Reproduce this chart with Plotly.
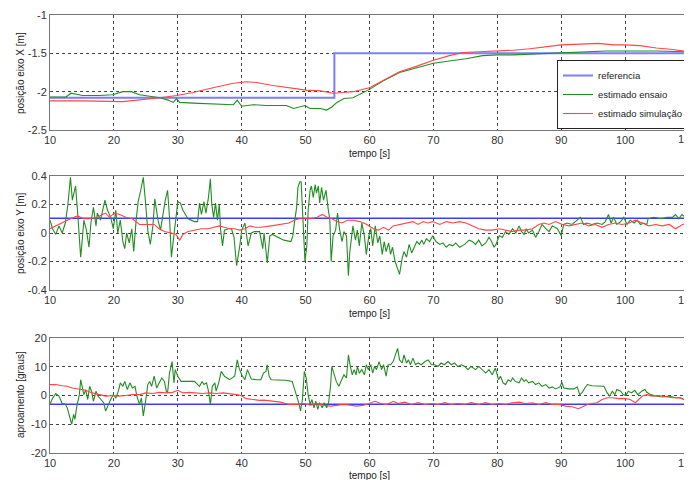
import plotly.graph_objects as go

# ---------------- data: posição eixo X [m] ----------------
t_x_ref = [10, 54.5, 54.5, 110]
x_ref = [-2.08, -2.08, -1.5, -1.5]

t_x_ens = [10, 12.5, 13.3, 15.1, 17.7, 19.8, 21.4, 22.7, 24, 26.1, 27.2, 28.5, 29.3, 29.8, 30.3,
           32.4, 35.5, 38.7, 39.3, 40, 41.8, 43.9, 47, 48.1, 49.9, 50.7, 52.3, 53.3, 54.1, 54.9,
           56, 57.4, 60, 62.1, 64.7, 67.3, 70, 72.5, 75.1, 77.7, 80, 82.5, 85.1, 87.8, 90, 94,
           97.1, 100, 105, 110]
x_ens = [-2.07, -2.07, -2.02, -2.05, -2.05, -2.04, -2.0, -2.0, -2.04, -2.07, -2.08, -2.11, -2.14, -2.09, -2.14,
         -2.15, -2.16, -2.17, -2.11, -2.19, -2.17, -2.18, -2.18, -2.22, -2.18, -2.22, -2.22, -2.24, -2.2, -2.14,
         -2.09, -2.08, -1.97, -1.86, -1.75, -1.69, -1.63, -1.6, -1.57, -1.53, -1.52, -1.52, -1.51, -1.5, -1.5, -1.48,
         -1.47, -1.47, -1.47, -1.48]

t_x_sim = [10, 15.1, 21.4, 24, 27.2, 29.8, 32.4, 35.5, 38.7, 40.8, 42.3, 44.9, 47.5, 50.1, 52.3, 54.3,
           55.8, 57.4, 60, 62.1, 64.7, 67.3, 70, 72.5, 74.6, 77.2, 80, 82.5, 85.1, 87.8, 90, 93, 95.8,
           98.2, 100, 102.3, 104.9, 107.5, 110]
x_sim = [-2.12, -2.12, -2.13, -2.11, -2.08, -2.05, -2.01, -1.95, -1.89, -1.87, -1.88, -1.92, -1.95, -1.98, -1.99, -2.02,
         -2.01, -2.0, -1.95, -1.86, -1.74, -1.67, -1.59, -1.53, -1.49, -1.48, -1.47, -1.46, -1.44, -1.41, -1.39, -1.38, -1.37,
         -1.39, -1.39, -1.4, -1.43, -1.45, -1.48]

# ---------------- data: posição eixo Y [m] ----------------
t_y_ref = [10, 110]
y_ref = [0.103, 0.103]

t_y_ens = [10, 10.4, 10.9, 11.4, 11.9, 12.4, 12.8, 13.2, 13.5, 13.8, 14.0, 14.3, 14.5, 14.8, 15.1, 15.3,
           15.7, 16.1, 16.4, 16.8, 17.2, 17.4, 17.9, 18.2, 18.6, 19.0, 19.5, 19.9, 20.3, 20.6, 21.0, 21.4,
           21.7, 22.0, 22.4, 22.8, 23.1, 23.5, 23.8, 24.2, 24.6, 24.9, 25.3, 25.7, 26.1, 26.4, 26.9, 27.3,
           27.6, 28.0, 28.4, 28.7, 29.0, 29.4, 29.7, 30.0, 30.4, 30.8, 31.6, 32.6, 33.1, 33.4, 33.7, 34.1,
           34.4, 34.8, 35.1, 35.3, 35.6, 35.9, 36.2, 36.5, 36.7, 37.0, 37.3, 37.9, 38.4, 38.8, 39.2, 39.4,
           39.7, 40.0, 40.5, 41.0, 41.5, 42.0, 42.8, 43.3, 43.5, 44.0, 44.4, 44.8, 45.6, 46.6, 47.7, 48.0,
           48.3, 48.6, 48.8, 49.1, 49.3, 49.6, 49.9, 50.2, 50.4, 50.7, 50.9, 51.2, 51.5, 51.7, 52.0, 52.2,
           52.5, 52.8, 53.2, 53.5, 53.8, 54.0, 54.3, 54.7, 55.0, 55.3, 55.7, 56.0, 56.4, 56.7, 56.9, 57.4,
           57.8, 58.1, 58.4, 58.8, 59.2, 59.5, 59.9, 60.2, 60.5, 60.9, 61.3, 61.6, 62.0, 62.3, 62.6, 63.0,
           63.3, 63.6, 64.0, 64.4, 64.7, 65.1, 65.4, 65.8, 66.2, 66.6, 67.0, 67.4, 67.8, 68.2, 68.5, 68.9,
           69.4, 69.9, 70.4, 71.0, 71.5, 72.0, 72.5, 73.0, 73.5, 74.1, 74.9, 75.6, 76.1, 76.6, 77.1, 77.6,
           78.2, 78.7, 79.1, 79.5, 79.8, 80.3, 80.8, 81.3, 81.8, 82.4, 82.9, 83.4, 83.8, 84.2, 84.5, 84.9,
           85.5, 86.0, 86.5, 87.0, 87.6, 88.1, 88.6, 89.4, 90.0, 90.4, 90.9, 91.7, 92.5, 93.0, 93.5, 94.0,
           94.8, 95.6, 96.4, 96.9, 97.4, 97.8, 98.2, 98.7, 99.3, 99.8, 100.3, 100.8, 101.4, 101.9, 102.4, 102.9,
           103.4, 103.6, 104.5, 105.6, 106.6, 107.4, 107.9, 108.4, 108.9, 109.4, 110]
y_ens = [0.09, 0.03, -0.01, 0.05, 0.0, 0.07, 0.2, 0.39, 0.23, 0.3, 0.33, 0.16, 0.02, -0.17, -0.02, 0.09,
         0.02, -0.1, 0.07, 0.18, 0.05, 0.14, 0.09, 0.16, 0.23, 0.16, 0.11, 0.03, 0.16, 0.0, 0.09, -0.06,
         -0.11, 0.0, -0.07, 0.03, -0.13, 0.1, 0.22, 0.3, 0.39, 0.24, 0.02, -0.08, 0.05, 0.24, 0.09, 0.02,
         0.11, 0.22, 0.3, 0.11, -0.17, -0.02, 0.09, 0.22, 0.21, 0.16, 0.1, 0.08, 0.08, 0.21, 0.13, 0.22,
         0.14, 0.25, 0.38, 0.21, 0.11, 0.21, 0.09, 0.2, 0.02, -0.09, 0.02, 0.03, 0.03, -0.03, -0.23, -0.18,
         -0.09, 0.02, 0.07, -0.09, 0.0, 0.01, 0.01, -0.11, 0.0, -0.21, -0.02, -0.01, -0.03, -0.05, -0.06, -0.02,
         0.09, 0.18, 0.32, 0.36, 0.36, 0.09, -0.2, -0.09, 0.16, 0.3, 0.33, 0.25, 0.34, 0.28, 0.33, 0.21,
         0.32, 0.23, 0.3, 0.18, 0.09, -0.2, -0.02, 0.02, 0.14, 0.03, -0.06, 0.01, -0.02, -0.3, -0.14, 0.05,
         -0.05, 0.02, -0.09, 0.07, -0.02, -0.15, -0.02, 0.03, -0.09, 0.05, -0.07, -0.02, -0.15, -0.06, -0.13, -0.07,
         -0.15, -0.1, -0.2, -0.25, -0.29, -0.18, -0.13, -0.17, -0.08, -0.14, -0.1, -0.06, -0.08, -0.05, -0.08, -0.04,
         -0.06, -0.02, -0.06, -0.08, -0.07, -0.1, -0.08, -0.09, -0.07, -0.1, -0.08, -0.05, -0.06, -0.08, -0.05, -0.09,
         -0.07, -0.03, -0.06, -0.1, -0.08, -0.02, -0.03, 0.01, -0.01, 0.03, 0.0, 0.05, 0.01, -0.01, 0.03, 0.0,
         0.02, -0.03, 0.01, 0.06, 0.03, 0.01, 0.05, 0.03, -0.02, 0.06, 0.07, 0.06, 0.09, 0.11, 0.06, 0.07,
         0.06, 0.07, 0.06, 0.08, 0.13, 0.07, 0.11, 0.06, 0.08, 0.11, 0.06, 0.09, 0.07, 0.09, 0.06, 0.07,
         0.06, 0.1, 0.11, 0.1, 0.11, 0.11, 0.13, 0.1, 0.13, 0.11, 0.16]

t_y_sim = [10, 10.9, 11.7, 12.4, 13.2, 14.3, 15.3, 16.4, 17.4, 18.2, 18.7, 19.3, 20.1, 20.9, 21.9, 22.9,
           23.5, 24.0, 25.3, 26.3, 27.1, 27.9, 29.0, 29.7, 30.3, 30.8, 31.6, 32.6, 33.7, 34.7, 35.8, 36.5,
           37.3, 38.1, 38.9, 39.7, 40.5, 41.3, 42.1, 43.0, 44.6, 46.1, 47.4, 48.2, 49.0, 49.8, 50.8, 51.8,
           52.6, 53.4, 54.1, 54.9, 55.7, 56.5, 57.5, 58.5, 59.6, 60.6, 61.4, 62.2, 63.0, 63.7, 64.8, 65.8,
           66.8, 67.6, 68.4, 69.1, 69.9, 71.0, 72.0, 73.1, 74.1, 75.1, 76.1, 77.1, 78.2, 79.2, 80.3, 81.3,
           82.3, 83.4, 84.4, 85.5, 86.5, 87.3, 88.1, 89.1, 90.2, 91.2, 92.2, 93.3, 94.3, 95.3, 96.4, 97.4,
           98.5, 99.5, 100.6, 101.6, 102.7, 103.7, 104.8, 105.8, 106.9, 107.9, 109.0, 110]
y_sim = [0.03, 0.05, 0.07, 0.08, 0.1, 0.12, 0.1, 0.1, 0.11, 0.13, 0.14, 0.11, 0.14, 0.13, 0.11, 0.1,
         0.08, 0.06, 0.06, 0.06, 0.03, 0.01, 0.0, -0.01, -0.05, -0.01, 0.01, 0.02, 0.03, 0.03, 0.04, 0.05,
         0.04, 0.03, 0.03, 0.02, 0.03, 0.05, 0.04, 0.04, 0.05, 0.06, 0.07, 0.09, 0.1, 0.1, 0.1, 0.11,
         0.13, 0.11, 0.1, 0.08, 0.07, 0.09, 0.09, 0.08, 0.06, 0.03, 0.02, 0.04, 0.02, 0.05, 0.06, 0.07,
         0.08, 0.06, 0.08, 0.07, 0.08, 0.06, 0.08, 0.07, 0.08, 0.07, 0.05, 0.03, 0.02, 0.02, 0.03, 0.02,
         0.01, 0.02, 0.02, 0.03, 0.06, 0.07, 0.06, 0.08, 0.06, 0.05, 0.06, 0.07, 0.05, 0.06, 0.04, 0.06,
         0.07, 0.06, 0.07, 0.09, 0.07, 0.05, 0.06, 0.05, 0.06, 0.03, 0.06, 0.07]

# ---------------- data: aproamento [graus] ----------------
t_h_ref = [10, 110]
h_ref = [-3.0, -3.0]

t_h_ens = [10, 10.4, 10.9, 11.4, 11.9, 12.4, 12.7, 13.0, 13.4, 13.7, 13.9, 14.2, 14.6, 14.8, 15.1, 15.3,
           15.6, 15.9, 16.2, 16.5, 16.8, 17.2, 17.5, 18.0, 18.4, 18.7, 19.1, 19.5, 19.9, 20.3, 20.7, 21.0,
           21.4, 21.7, 22.1, 22.5, 22.9, 23.3, 23.6, 24.0, 24.3, 24.6, 25.0, 25.3, 25.6, 25.9, 26.3, 26.7,
           27.1, 27.5, 27.9, 28.2, 28.4, 28.7, 29.1, 29.4, 29.6, 30.0, 30.5, 31.6, 32.6, 33.4, 33.8, 34.1,
           34.5, 34.8, 35.1, 35.4, 35.8, 36.0, 36.4, 36.8, 37.3, 38.1, 38.9, 39.3, 39.6, 40.0, 40.5, 40.9,
           41.5, 42.3, 43.0, 43.4, 43.8, 44.0, 44.3, 44.6, 45.6, 46.9, 47.9, 48.2, 48.6, 49.0, 49.2, 49.5,
           49.8, 50.1, 50.4, 50.7, 51.0, 51.3, 51.6, 51.9, 52.2, 52.6, 52.9, 53.3, 53.6, 53.9, 54.1, 54.5,
           54.8, 55.2, 55.5, 56.0, 56.4, 56.7, 57.0, 57.3, 57.6, 57.9, 58.1, 58.4, 58.8, 59.2, 59.5, 59.8,
           60.2, 60.5, 60.8, 61.1, 61.5, 61.9, 62.2, 62.6, 62.9, 63.3, 63.7, 64.0, 64.4, 64.7, 65.1, 65.4,
           65.8, 66.1, 66.4, 66.8, 67.2, 67.6, 68.1, 68.7, 69.2, 69.7, 70.2, 70.7, 71.2, 71.7, 72.3, 72.8,
           73.3, 73.8, 74.4, 74.9, 75.4, 75.9, 76.4, 76.6, 77.1, 77.7, 78.2, 78.7, 79.2, 79.7, 80.2, 80.5,
           80.9, 81.3, 81.7, 82.1, 82.4, 82.8, 83.4, 83.8, 84.2, 84.5, 84.9, 85.5, 86.0, 86.5, 87.0, 87.6,
           88.1, 88.6, 89.1, 89.8, 90.1, 90.4, 91.2, 92.0, 92.5, 92.9, 93.3, 93.7, 94.1, 94.8, 95.9, 96.7,
           97.2, 97.6, 98.0, 98.4, 98.7, 99.3, 99.7, 100.1, 100.5, 101.0, 101.5, 102.0, 102.6, 103.1, 103.4, 104.0,
           104.8, 105.8, 106.9, 107.9, 108.7, 109.2, 109.7, 110]
h_ens = [-3.0, -1.0, 0.7, -0.2, -2.8, -3.0, -4.3, -7.1, -10.0, -6.6, -8.3, -3.7, 0.3, 5.5, 2.6, 0.3,
         2.0, -1.4, 3.2, 1.5, -2.0, 1.5, -0.2, -1.4, -2.5, -5.4, -3.1, -1.4, 0.3, -0.8, 1.5, 4.4,
         3.2, 4.9, 2.1, 4.4, 2.6, 3.2, -0.2, -3.1, -0.8, -7.1, -1.4, 3.8, 4.9, 3.2, 6.7, 2.6,
         4.4, 6.1, 4.9, 1.5, 0.9, 7.8, 11.8, 4.4, 9.0, 6.7, 4.9, 4.9, 4.9, 3.2, 4.9, 3.8,
         4.4, 1.5, -3.1, 3.2, 4.4, 1.5, 4.4, 8.4, 6.7, 5.5, 6.7, 12.4, 9.5, 7.2, 5.5, 9.0,
         5.7, 5.5, 5.5, 7.8, 8.4, 10.7, 6.7, 5.5, 5.5, 5.3, 4.9, 2.6, 0.3, -3.1, -5.4, -1.4,
         8.4, 6.1, 0.3, -3.1, -1.4, -4.3, -2.0, -4.8, -2.5, -4.3, -2.5, -4.3, -2.5, 3.2, 10.1, 6.7,
         4.9, 3.2, 4.9, 7.2, 6.1, 14.1, 10.1, 7.2, 9.0, 7.2, 10.1, 7.8, 9.0, 7.2, 10.7, 9.0,
         10.7, 7.8, 10.1, 9.0, 11.8, 9.0, 10.7, 6.7, 10.7, 10.7, 11.8, 13.6, 16.4, 12.4, 11.3, 14.1,
         11.3, 12.4, 10.7, 13.0, 10.7, 11.3, 10.7, 11.8, 12.4, 10.7, 10.7, 10.1, 11.3, 10.7, 11.8, 10.7,
         11.3, 10.1, 10.7, 10.1, 9.0, 10.1, 9.5, 9.0, 10.1, 9.0, 7.8, 9.0, 7.2, 9.5, 5.5, 6.7,
         4.4, 3.8, 5.5, 4.9, 6.1, 4.9, 4.4, 6.1, 4.9, 5.5, 4.4, 4.9, 3.8, 4.4, 3.2, 3.8,
         2.6, 3.0, 2.3, 3.0, 4.6, 2.6, 2.3, 2.3, 3.0, 0.3, 1.1, 2.6, 3.8, 3.4, 3.2, 3.2,
         0.9, -0.2, 1.5, 0.3, 2.1, 1.5, 0.3, 0.0, 1.5, 0.9, 1.8, 0.3, 1.5, 2.1, 1.1, 0.3,
         -0.2, -0.5, -0.2, -0.8, -0.8, -1.4, -1.6, -3.1]

t_h_sim = [10, 10.9, 11.9, 12.7, 13.5, 14.6, 15.6, 16.6, 17.7, 18.7, 19.8, 20.8, 21.9, 22.9, 24.0, 25.0,
           26.1, 27.1, 28.2, 29.2, 30.0, 30.8, 31.8, 32.9, 33.9, 35.0, 36.0, 37.1, 38.1, 39.2, 39.9, 40.7,
           41.8, 42.8, 43.5, 44.6, 46.1, 47.4, 48.7, 49.7, 50.8, 51.8, 52.8, 53.9, 54.9, 56.0, 57.0, 58.0,
           59.1, 60.1, 60.9, 61.7, 62.7, 63.7, 64.5, 65.5, 66.6, 67.6, 68.7, 69.7, 70.7, 71.8, 72.8, 73.8,
           74.9, 75.9, 77.1, 78.2, 79.2, 80.3, 81.3, 82.3, 83.4, 84.4, 85.5, 86.5, 87.6, 88.6, 89.6, 90.7,
           91.7, 92.7, 93.3, 94.1, 94.8, 95.6, 96.4, 97.2, 98.0, 99.0, 100.1, 100.8, 101.6, 102.1, 102.7, 103.4,
           104.2, 105.3, 106.3, 107.3, 108.4, 109.2, 110]
h_sim = [3.8, 3.8, 3.4, 3.2, 2.6, 2.1, 1.8, 0.9, 0.3, -0.2, 0.0, -0.2, 0.0, 0.3, 0.3, 0.9,
         0.7, 1.1, 0.9, 1.1, 1.8, 0.9, 1.1, 0.9, 0.7, 0.9, 0.7, 0.9, 0.7, 0.3, 0.0, -1.1,
         -1.4, -1.7, -1.6, -2.0, -2.3, -3.1, -3.1, -2.8, -3.4, -2.8, -3.4, -3.7, -3.4, -3.1, -3.4, -3.7,
         -3.4, -2.5, -2.0, -2.8, -3.1, -2.0, -2.8, -2.3, -3.1, -2.5, -3.1, -2.8, -3.1, -2.5, -3.1, -2.8,
         -3.1, -2.5, -3.1, -2.5, -3.1, -2.8, -3.1, -2.5, -2.3, -2.8, -2.5, -3.1, -2.5, -3.1, -3.1, -3.7,
         -3.9, -4.6, -3.9, -3.1, -2.8, -2.5, -1.4, -0.8, -0.8, -1.1, -1.1, -1.4, -2.5, -1.4, -0.2, 0.3,
         -0.2, 0.0, -0.5, -0.8, -0.8, -1.4, -3.1]

x_ticks = [10, 20, 30, 40, 50, 60, 70, 80, 90, 100, 110]
ylabels = ["posição eixo X [m]", "posição eixo Y [m]", "aproamento [graus]"]
xlabel = "tempo [s]"
names = ["referencia", "estimado ensaio", "estimado simulação"]

# ---------------- styling ----------------
BLUE_TOP = "rgb(125,125,255)"
BLUE = "rgb(60,60,255)"
GREEN = "rgb(35,140,35)"
RED = "rgb(255,70,70)"

OFF = 8                      # page body margin offset
W, H = 692 - OFF, 480 - OFF
ML, MR, MT, MB = 50 - OFF, 3, 15 - OFF, 27
plot_w = W - ML - MR
plot_h = H - MT - MB


def py(page_y):
    """page pixel y -> paper fraction"""
    return (H - MB - (page_y - OFF)) / plot_h


def px(page_x):
    return (page_x - OFF - ML) / plot_w


fig = go.Figure()

panels = [
    (t_x_ref, x_ref, t_x_ens, x_ens, t_x_sim, x_sim, BLUE_TOP),
    (t_y_ref, y_ref, t_y_ens, y_ens, t_y_sim, y_sim, BLUE),
    (t_h_ref, h_ref, t_h_ens, h_ens, t_h_sim, h_sim, BLUE),
]
for i, (tr, vr, te, ve, ts, vs, bcol) in enumerate(panels):
    xa = "x" if i == 0 else f"x{i+1}"
    ya = "y" if i == 0 else f"y{i+1}"
    show = i == 0
    fig.add_trace(go.Scatter(x=tr, y=vr, mode="lines", name=names[0], legendgroup="r",
                             showlegend=show, line=dict(color=bcol, width=2 if i == 0 else 1.5),
                             xaxis=xa, yaxis=ya))
    fig.add_trace(go.Scatter(x=te, y=ve, mode="lines", name=names[1], legendgroup="e",
                             showlegend=show, line=dict(color=GREEN, width=1.1),
                             xaxis=xa, yaxis=ya))
    fig.add_trace(go.Scatter(x=ts, y=vs, mode="lines", name=names[2], legendgroup="s",
                             showlegend=show, line=dict(color=RED, width=1.1),
                             xaxis=xa, yaxis=ya))

FONT = "Liberation Sans, Arial, sans-serif"
tickfont = dict(family=FONT, size=11, color="#333")
axis_common = dict(showline=True, mirror=True, linecolor="#777", linewidth=1,
                   showgrid=True, gridcolor="#444", griddash="dot", gridwidth=1,
                   zeroline=False, ticks="", tickfont=tickfont, automargin=False)

domains = [[py(130), py(15)], [py(290), py(176)], [py(453), py(338)]]
yranges = [[-2.5, -1], [-0.4, 0.4], [-20, 20]]
ytickvals = [[-2.5, -2, -1.5, -1], [-0.4, -0.2, 0, 0.2, 0.4], [-20, -10, 0, 10, 20]]
yticktext = [["-2.5", "-2", "-1.5", "-1"], ["-0.4", "-0.2", "0", "0.2", "0.4"],
             ["-20", "-10", "0", "10", "20"]]

layout = dict(width=W, height=H, margin=dict(l=ML, r=MR, t=MT, b=MB),
              paper_bgcolor="white", plot_bgcolor="white", showlegend=True,
              legend=dict(x=px(688), xanchor="right", y=py(129), yanchor="bottom",
                          bgcolor="white", bordercolor="#222", borderwidth=1,
                          font=dict(family=FONT, size=9.5, color="#222"),
                          tracegroupgap=0, itemwidth=30))
for i in range(3):
    xk = "xaxis" if i == 0 else f"xaxis{i+1}"
    yk = "yaxis" if i == 0 else f"yaxis{i+1}"
    ya = "y" if i == 0 else f"y{i+1}"
    xa = "x" if i == 0 else f"x{i+1}"
    layout[xk] = dict(axis_common, domain=[0, 1], range=[10, 110], tickvals=x_ticks,
                      anchor=ya)
    layout[yk] = dict(axis_common, domain=domains[i], range=yranges[i],
                      tickvals=ytickvals[i], ticktext=yticktext[i], anchor=xa)
fig.update_layout(**layout)

lab_font = dict(family=FONT, size=10, color="#222")
ylab_px = [73, 233, 395]
xlab_px = [153, 313, 475]
ticklab_px = [139, 300, 463]
for i in range(3):
    xa = "x" if i == 0 else f"x{i+1}"
    fig.add_annotation(text=ylabels[i], xref="paper", yref="paper",
                       x=px(20), y=py(ylab_px[i]),
                       textangle=-90, showarrow=False, font=lab_font,
                       xanchor="center", yanchor="middle")
    fig.add_annotation(text=xlabel, xref="paper", yref="paper",
                       x=0.5, y=py(xlab_px[i]),
                       showarrow=False, font=lab_font, xanchor="center", yanchor="middle")
    # last tick label (110), which the reference shows cut at the right edge
    fig.add_annotation(text=str(x_ticks[-1]), xref=xa, yref="paper",
                       x=x_ticks[-1], y=py(ticklab_px[i]), xshift=-2,
                       showarrow=False, font=tickfont, xanchor="center", yanchor="middle")

fig.write_html("out.html")
